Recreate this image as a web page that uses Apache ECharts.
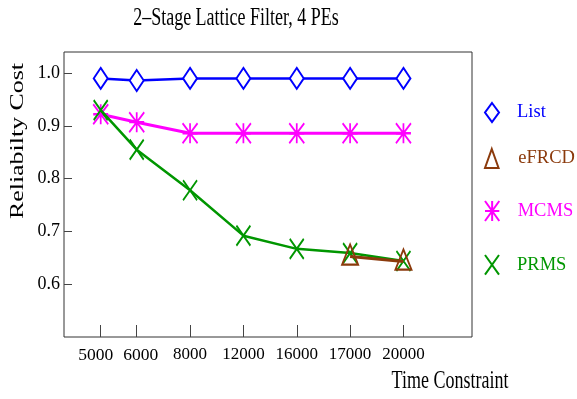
<!DOCTYPE html>
<html>
<head>
<meta charset="utf-8">
<script src="https://cdn.jsdelivr.net/npm/echarts@6/dist/echarts.min.js"></script>
<style>html,body{margin:0;padding:0;background:#fff;}#c{width:577px;height:399px;}</style>
</head>
<body>
<div id="c"></div>
<script>
// ---- data ----
const categories = ['5000', '6000', '8000', '12000', '16000', '17000', '20000'];
// slot of each time-constraint tick along the (non-uniform) x axis
const xSlot = [0.325, 1, 2, 3, 4, 5, 6];
const listVals  = [0.990, 0.986, 0.990, 0.990, 0.990, 0.990, 0.990];
const efrcdVals = [null, null, null, null, null, 0.6525, 0.643];
const mcmsVals  = [0.922, 0.907, 0.886, 0.886, 0.886, 0.886, 0.886];
const prmsVals  = [0.930, 0.855, 0.778, 0.692, 0.667, 0.659, 0.644];
const yTicks = [0.6, 0.7, 0.8, 0.9, 1.0];

const FONT = '"Liberation Serif", "Times New Roman", serif';
const C_LIST = '#0000ff', C_EF = '#8b3a0c', C_MC = '#ff00ff', C_PR = '#009600';
const SYM_X = 'path://M0 0L10 14M10 0L0 14';
const SYM_STAR = 'path://M5 0L5 14M0 7L10 7M0 0L10 14M10 0L0 14';
const SYM_TRI = 'path://M5 0L10 14L0 14Z';

function pts(vals) {
  const out = [];
  vals.forEach((v, i) => { if (v !== null) out.push([xSlot[i], v]); });
  return out;
}

const chart = echarts.init(document.getElementById('c'), null, {renderer: 'canvas'});

function legendOf(name, icon, color, fill, top, w, h) {
  return {
    data: [{name: name, icon: icon, itemStyle: {color: fill, borderColor: color, borderWidth: 2}}],
    orient: 'vertical', left: 484, top: top, padding: 0,
    itemWidth: w, itemHeight: h, selectedMode: false,
    textStyle: {color: color, fontFamily: FONT, fontSize: 18.5, padding: [0, 0, 0, 13]}
  };
}

chart.setOption({
  animation: false,
  backgroundColor: '#fff',
  grid: {left: 64, top: 52, right: 105, bottom: 62, show: true, borderColor: '#333', borderWidth: 1, outerBoundsMode: 'none'},
  xAxis: {
    type: 'value', min: -0.363, max: 7.285,
    axisLine: {show: false, onZero: false},
    splitLine: {show: false},
    axisTick: {show: true, inside: true, length: 12, lineStyle: {color: '#444'}, customValues: xSlot},
    axisLabel: {
      customValues: xSlot, margin: 9, color: '#000', fontFamily: FONT, fontSize: 17,
      formatter: function (v) {
        const i = xSlot.indexOf(v);
        if (i < 0) return '';
        if (i === 0) return '{l|' + categories[i] + '}';
        if (i === 1) return '{r|' + categories[i] + '}';
        return categories[i];
      },
      rich: {
        l: {fontFamily: FONT, fontSize: 17.5, color: '#000', padding: [0, 10, 0, 0]},
        r: {fontFamily: FONT, fontSize: 17.5, color: '#000', padding: [0, 0, 0, 8]}
      }
    }
  },
  yAxis: {
    type: 'value', min: 0.5, max: 1.04, interval: 0.1,
    axisLine: {show: false, onZero: false},
    splitLine: {show: false},
    axisTick: {show: true, inside: true, length: 8, lineStyle: {color: '#444'}, customValues: yTicks},
    axisLabel: {
      customValues: yTicks, margin: 4, color: '#000', fontFamily: FONT, fontSize: 18,
      formatter: function (v) { return v.toFixed(1); }
    }
  },
  legend: [
    legendOf('List', 'diamond', C_LIST, '#fff', 102, 14, 19),
    legendOf('eFRCD', SYM_TRI, C_EF, 'rgba(0,0,0,0)', 148, 17, 19),
    legendOf('MCMS', SYM_STAR, C_MC, 'rgba(0,0,0,0)', 200, 15, 20),
    legendOf('PRMS', SYM_X, C_PR, 'rgba(0,0,0,0)', 254, 14, 20)
  ],
  graphic: [
    {type: 'text', x: 236, y: 18, scaleY: 1.4,
     style: {text: '2\u2013Stage Lattice Filter, 4 PEs', x: 0, y: 0, align: 'center', verticalAlign: 'middle', fontFamily: FONT, fontSize: 18, fill: '#000'}},
    {type: 'text', x: 18.5, y: 141, rotation: Math.PI / 2, scaleX: 1.4,
     style: {text: 'Reliabilty Cost', x: 0, y: 0, align: 'center', verticalAlign: 'middle', fontFamily: FONT, fontSize: 18.5, fill: '#000'}},
    {type: 'text', x: 450, y: 381, scaleY: 1.4,
     style: {text: 'Time Constraint', x: 0, y: 0, align: 'center', verticalAlign: 'middle', fontFamily: FONT, fontSize: 18, fill: '#000'}}
  ],
  series: [
    {name: 'List', type: 'line', data: pts(listVals), symbol: 'diamond', symbolSize: [14, 21],
     lineStyle: {color: C_LIST, width: 2.5}, itemStyle: {color: '#fff', borderColor: C_LIST, borderWidth: 2}, z: 2},
    {name: 'MCMS', type: 'line', data: pts(mcmsVals), symbol: SYM_STAR, symbolSize: [15, 20],
     lineStyle: {color: C_MC, width: 3}, itemStyle: {color: 'rgba(0,0,0,0)', borderColor: C_MC, borderWidth: 2}, z: 3},
    {name: 'PRMS', type: 'line', data: pts(prmsVals), symbol: SYM_X, symbolSize: [14, 20],
     lineStyle: {color: C_PR, width: 2.5}, itemStyle: {color: 'rgba(0,0,0,0)', borderColor: C_PR, borderWidth: 2}, z: 4},
    {name: 'eFRCD', type: 'line', data: pts(efrcdVals), symbol: SYM_TRI, symbolSize: [16, 20], symbolOffset: [0, -2],
     lineStyle: {color: C_EF, width: 3}, itemStyle: {color: 'rgba(0,0,0,0)', borderColor: C_EF, borderWidth: 2}, z: 5}
  ]
});
</script>
</body>
</html>
